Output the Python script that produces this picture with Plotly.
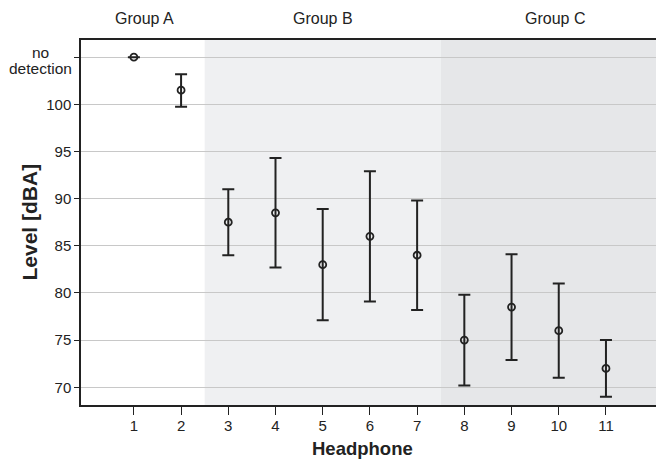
import plotly.graph_objects as go

headphones = [1, 2, 3, 4, 5, 6, 7, 8, 9, 10, 11]
level_mean = [105.0, 101.5, 87.5, 88.5, 83.0, 86.0, 84.0, 75.0, 78.5, 76.0, 72.0]
level_upper = [105.0, 103.2, 91.0, 94.3, 88.9, 92.9, 89.8, 79.8, 84.1, 81.0, 75.0]
level_lower = [105.0, 99.75, 84.0, 82.7, 77.1, 79.1, 78.2, 70.2, 72.9, 71.0, 69.0]
groups = ["Group A", "Group B", "Group C"]
group_bounds = [(-0.12, 2.5), (2.5, 7.5), (7.5, 12.06)]
group_label_pos = [0.111, 0.421, 0.824]
y_tickvals = [70, 75, 80, 85, 90, 95, 100, 105]
y_ticktext = ["70", "75", "80", "85", "90", "95", "100", ""]
no_detection_lines = ["no", "detection"]

err_plus = [u - m for u, m in zip(level_upper, level_mean)]
err_minus = [m - l for m, l in zip(level_mean, level_lower)]

FONT = "Liberation Sans, Arial, sans-serif"
DARK = "#222222"

fig = go.Figure()
fig.add_trace(go.Scatter(
    x=headphones, y=level_mean, mode="markers",
    marker=dict(symbol="circle-open", size=7, color=DARK, line=dict(width=1.8, color=DARK)),
    error_y=dict(type="data", symmetric=False, array=err_plus, arrayminus=err_minus,
                 color=DARK, thickness=2, width=6),
    showlegend=False, hoverinfo="skip",
))

bg_colors = ["rgba(0,0,0,0)", "#eff0f2", "#e6e7e9"]
for (x0, x1), col in zip(group_bounds, bg_colors):
    fig.add_shape(type="rect", xref="x", yref="paper", x0=x0, x1=x1, y0=0, y1=1,
                  fillcolor=col, line=dict(width=0), layer="below")

for name, px in zip(groups, group_label_pos):
    fig.add_annotation(x=px, y=1.060, xref="paper", yref="paper", text=name,
                       xanchor="center", yanchor="middle",
                       showarrow=False, font=dict(family=FONT, size=16, color=DARK))

for line, shift in zip(no_detection_lines, [5, -11]):
    fig.add_annotation(x=-0.0696, y=105, xref="paper", yref="y", yshift=shift, text=line,
                       xanchor="center", yanchor="middle", showarrow=False,
                       font=dict(family=FONT, size=15.5, color=DARK))

fig.add_annotation(x=-0.0904, y=0.5, xref="paper", yref="paper", text="<b>Level [dBA]</b>",
                   xanchor="center", yanchor="middle",
                   textangle=-90, showarrow=False, font=dict(family=FONT, size=21, color=DARK))
fig.add_annotation(x=0.49, y=-0.1205, xref="paper", yref="paper", text="<b>Headphone</b>",
                   xanchor="center", yanchor="middle",
                   showarrow=False, font=dict(family=FONT, size=18.5, color=DARK))

fig.update_layout(
    width=656, height=461,
    margin=dict(l=81, r=0, t=40, b=56, autoexpand=False),
    paper_bgcolor="white", plot_bgcolor="white",
    font=dict(family=FONT, size=15, color=DARK),
    xaxis=dict(
        range=[-0.12, 12.06], tickvals=headphones, ticktext=[str(h) for h in headphones],
        showgrid=False, zeroline=False, showline=True, linecolor=DARK, linewidth=1.5,
        mirror=True, ticks="outside", ticklen=8, tickcolor=DARK, tickwidth=1.2,
        automargin=False, tickfont=dict(size=15), ticklabelstandoff=-2,
    ),
    yaxis=dict(
        range=[68.12, 106.82], tickvals=y_tickvals, ticktext=y_ticktext,
        showgrid=True, gridcolor="#c8c8c8", gridwidth=1, zeroline=False,
        showline=True, linecolor=DARK, linewidth=1.5,
        ticks="outside", ticklen=5, tickcolor=DARK, tickwidth=1.2,
        automargin=False, tickfont=dict(size=15),
    ),
)

fig.write_html("out.html", config={"displayModeBar": False},
               post_script="document.body.style.margin='0';document.body.style.overflow='hidden';")
